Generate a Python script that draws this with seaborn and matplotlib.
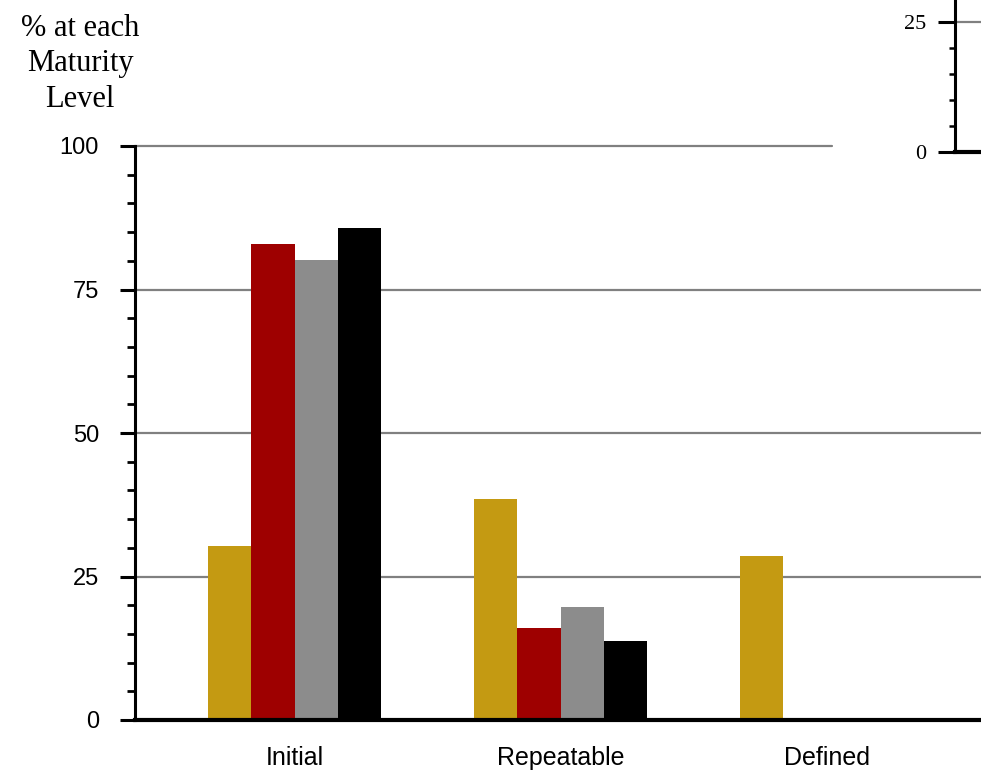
import matplotlib as mpl
mpl.use("Agg")
import pandas as pd
import matplotlib.pyplot as plt
import seaborn as sns
from matplotlib.patches import Rectangle
from matplotlib.ticker import MultipleLocator

# 数据
levels = ['Initial', 'Repeatable', 'Defined']
series = ['Series 1', 'Series 2', 'Series 3', 'Series 4']
colors = ['#C49A12', '#9E0000', '#8C8C8C', '#000000']
s1 = [30.3, 38.5, 28.6]
s2 = [82.9, 16.0, 0]
s3 = [80.1, 19.7, 0]
s4 = [85.7, 13.8, 0]
inset_ticks = [0, 25]

rows = []
for name, vals in zip(series, [s1, s2, s3, s4]):
    for lvl, v in zip(levels, vals):
        rows.append({'Level': lvl, 'Series': name, 'Pct': v})
df = pd.DataFrame(rows)

sns.set_style('white')
plt.rcParams['font.family'] = ['Liberation Sans', 'DejaVu Sans']
plt.rcParams['text.color'] = 'black'
plt.rcParams['xtick.color'] = 'black'
plt.rcParams['ytick.color'] = 'black'

fig = plt.figure(figsize=(9.81, 7.76), dpi=100)
ax = fig.add_axes([135 / 981, 56 / 776, 1 - 135 / 981, 574 / 776])

sns.barplot(data=df, x='Level', y='Pct', hue='Series', palette=colors,
            width=0.65, gap=0, linewidth=0, saturation=1, legend=False, ax=ax)

ax.set_xlim(-0.6, 2.58)
ax.set_ylim(0, 100)
ax.yaxis.set_major_locator(MultipleLocator(25))
ax.yaxis.set_minor_locator(MultipleLocator(5))
for y in [25, 50, 75]:
    ax.axhline(y, color='#808080', lw=1.6, zorder=0)
ax.axhline(100, xmax=(832 - 135) / (981 - 135), color='#808080', lw=1.6,
           zorder=0, clip_on=False)

for s in ['top', 'right']:
    ax.spines[s].set_visible(False)
ax.spines['left'].set_linewidth(2.2)
ax.spines['bottom'].set_linewidth(3)
ax.spines['left'].set_color('black')
ax.spines['bottom'].set_color('black')
ax.tick_params(axis='y', which='major', direction='out', length=11, width=2.2,
               labelsize=17, pad=15, labelcolor='black', left=True)
ax.tick_params(axis='y', which='minor', direction='out', length=6, width=2,
               left=True)
ax.tick_params(axis='x', length=0, labelsize=18, pad=19, labelcolor='black')
ax.set_xlabel('')
ax.set_ylabel('')

fig.text(80 / 981, 1 - 64 / 776, '% at each\nMaturity\nLevel', ha='center', va='center',
         fontsize=22, family=['Liberation Serif', 'DejaVu Serif'], linespacing=1.3,
         color='black')

# 右上角另一张图的残留
fig.patches.append(Rectangle((833 / 981, 1 - 165 / 776), 1, 165 / 776,
                             transform=fig.transFigure, facecolor='white',
                             edgecolor='none', zorder=1))
ax2 = fig.add_axes([955 / 981, 1 - 152 / 776, 26 / 981, 152 / 776], zorder=2)
ax2.set_xlim(0, 1)
ax2.set_ylim(0, 29.2)
ax2.set_yticks(inset_ticks)
ax2.yaxis.set_minor_locator(MultipleLocator(5))
ax2.set_xticks([])
ax2.axhline(25, color='#808080', lw=1.6, zorder=0)
for s in ['top', 'right']:
    ax2.spines[s].set_visible(False)
ax2.spines['left'].set_linewidth(2.2)
ax2.spines['left'].set_color('black')
ax2.spines['bottom'].set_linewidth(3)
ax2.spines['bottom'].set_color('black')
ax2.tick_params(axis='y', which='major', direction='out', length=12, width=2.2,
                labelsize=16, pad=9, labelcolor='black', left=True)
ax2.tick_params(axis='y', which='minor', direction='out', length=4, width=1.8,
                left=True)
for lab in ax2.get_yticklabels():
    lab.set_family(['Liberation Serif', 'DejaVu Serif'])

fig.savefig('out.png', dpi=100, facecolor='white')
plt.close()
